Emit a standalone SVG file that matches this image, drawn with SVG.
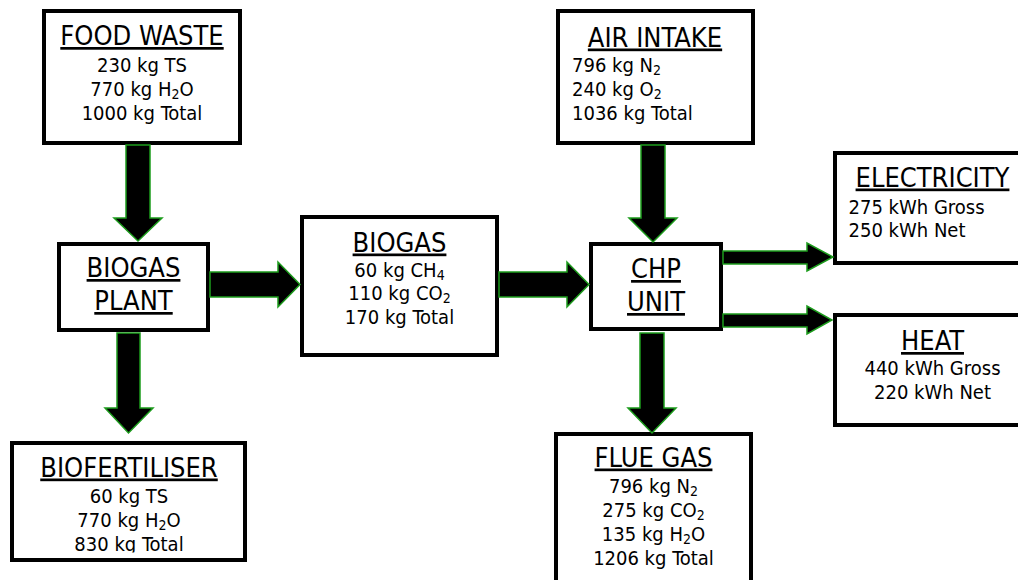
<svg xmlns="http://www.w3.org/2000/svg" width="1018" height="580" viewBox="0 0 1018 580">
<style>
.box{fill:#fff;stroke:#000;stroke-width:4}
.arr{fill:#000;stroke:#1c9c1c;stroke-width:1.5;stroke-linejoin:miter}
text{font-family:"DejaVu Sans Condensed","DejaVu Sans",sans-serif;font-stretch:condensed;fill:#000}
.t{font-size:27px;text-decoration:underline;text-decoration-thickness:2px}
.b{font-size:20px}
.c{text-anchor:middle}
.s{font-size:14px}
</style>
<defs>
<clipPath id="clipFert"><rect x="0" y="430" width="300" height="122.5"/></clipPath>
</defs>
<rect width="1018" height="580" fill="#fff"/>
<g id="food-waste">
<rect class="box" x="44" y="11" width="196" height="132"/>
<text class="t c" x="142" y="45">FOOD WASTE</text>
<text class="b c" x="142" y="71.5">230 kg TS</text>
<text class="b c" x="142" y="96">770 kg H<tspan class="s" dy="3">2</tspan><tspan dy="-3">O</tspan></text>
<text class="b c" x="142" y="119.5">1000 kg Total</text>
</g>
<g id="air-intake">
<rect class="box" x="558" y="11" width="195" height="132"/>
<text class="t c" x="655" y="46.5">AIR INTAKE</text>
<text class="b" x="572" y="71.5">796 kg N<tspan class="s" dy="3">2</tspan></text>
<text class="b" x="572" y="95.5">240 kg O<tspan class="s" dy="3">2</tspan></text>
<text class="b" x="572" y="119.5">1036 kg Total</text>
</g>
<g id="biogas-plant">
<rect class="box" x="59" y="244" width="149" height="86"/>
<text class="t c" x="133.5" y="277">BIOGAS</text>
<text class="t c" x="133.5" y="310">PLANT</text>
</g>
<g id="biogas">
<rect class="box" x="302" y="217" width="195" height="138"/>
<text class="t c" x="399.5" y="251.5">BIOGAS</text>
<text class="b c" x="399.5" y="276.5">60 kg CH<tspan class="s" dy="3">4</tspan></text>
<text class="b c" x="399.5" y="300">110 kg CO<tspan class="s" dy="3">2</tspan></text>
<text class="b c" x="399.5" y="324">170 kg Total</text>
</g>
<g id="chp-unit">
<rect class="box" x="591" y="244" width="130" height="85"/>
<text class="t c" x="656" y="278">CHP</text>
<text class="t c" x="656" y="311">UNIT</text>
</g>
<g id="electricity">
<rect class="box" x="835" y="153" width="200" height="110"/>
<text class="t c" x="932.5" y="186.5">ELECTRICITY</text>
<text class="b" x="848.5" y="213.5">275 kWh Gross</text>
<text class="b" x="848.5" y="236.5">250 kWh Net</text>
</g>
<g id="heat">
<rect class="box" x="835" y="315" width="200" height="110"/>
<text class="t c" x="932.5" y="350">HEAT</text>
<text class="b c" x="932.5" y="375">440 kWh Gross</text>
<text class="b c" x="932.5" y="399">220 kWh Net</text>
</g>
<g id="biofertiliser">
<rect class="box" x="12" y="443" width="233" height="117"/>
<g clip-path="url(#clipFert)">
<text class="t c" x="129" y="476.5">BIOFERTILISER</text>
<text class="b c" x="129" y="502.5">60 kg TS</text>
<text class="b c" x="129" y="526.5">770 kg H<tspan class="s" dy="3">2</tspan><tspan dy="-3">O</tspan></text>
<text class="b c" x="129" y="551">830 kg Total</text>
</g>
</g>
<g id="flue-gas">
<rect class="box" x="556" y="434" width="195" height="160"/>
<text class="t c" x="653.5" y="466.5">FLUE GAS</text>
<text class="b c" x="653.5" y="492.5">796 kg N<tspan class="s" dy="3">2</tspan></text>
<text class="b c" x="653.5" y="516.5">275 kg CO<tspan class="s" dy="3">2</tspan></text>
<text class="b c" x="653.5" y="540.5">135 kg H<tspan class="s" dy="3">2</tspan><tspan dy="-3">O</tspan></text>
<text class="b c" x="653.5" y="565">1206 kg Total</text>
</g>
<g id="connectors">
<polygon class="arr" points="126,145 150,145 150,218 162,218 138,241 114,218 126,218"/>
<polygon class="arr" points="117,333 140,333 140,408 153,408 128.5,433 105,408 117,408"/>
<polygon class="arr" points="641,145 665,145 665,218 677,218 653,242 629,218 641,218"/>
<polygon class="arr" points="640,333 664,333 664,408 676,408 652,433 628,408 640,408"/>
<polygon class="arr" points="210,272 278,272 278,262 300,284.5 278,307 278,297 210,297"/>
<polygon class="arr" points="499,272 567,272 567,262 589,284.5 567,307 567,297 499,297"/>
<polygon class="arr" points="723,251 807,251 807,243 833,257 807,271 807,264 723,264"/>
<polygon class="arr" points="723,314 807,314 807,306 832,320 807,334 807,327 723,327"/>
</g>
</svg>
